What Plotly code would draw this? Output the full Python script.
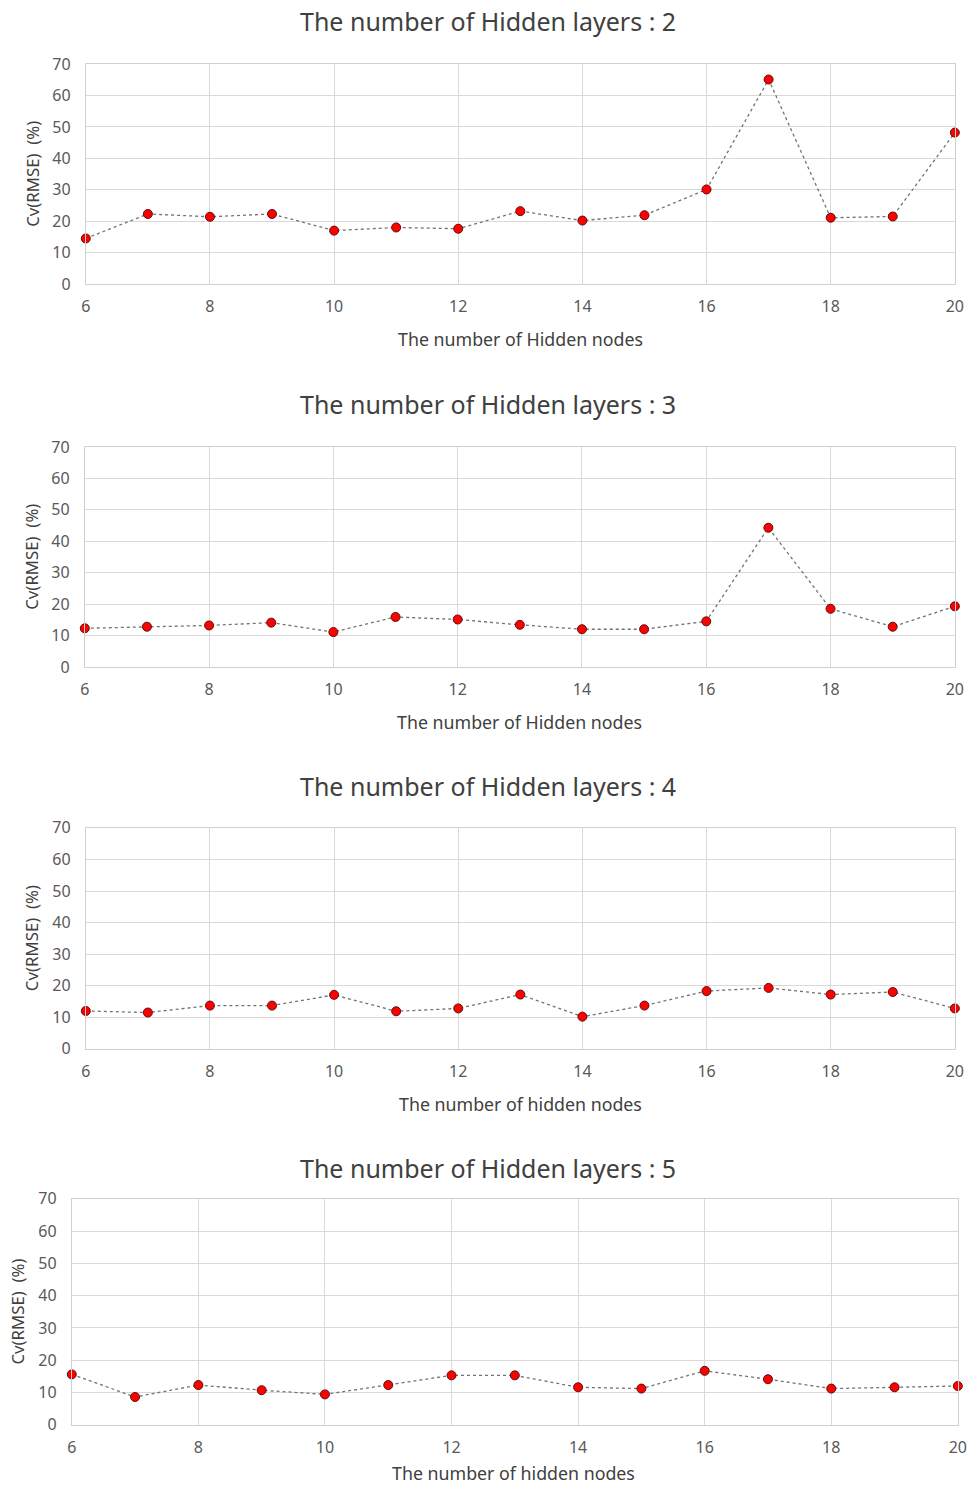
import plotly.graph_objects as go

nodes = list(range(6, 21))
layers = [2, 3, 4, 5]
cv_l2 = [14.5, 22.3, 21.4, 22.3, 17.0, 18.0, 17.6, 23.2, 20.2, 21.9, 30.1, 65.1, 21.1, 21.5, 48.2]
cv_l3 = [12.3, 12.8, 13.2, 14.1, 11.1, 15.9, 15.1, 13.4, 12.0, 12.0, 14.5, 44.3, 18.5, 12.8, 19.3]
cv_l4 = [12.0, 11.5, 13.7, 13.7, 17.1, 11.9, 12.8, 17.2, 10.2, 13.7, 18.3, 19.3, 17.2, 18.0, 12.8]
cv_l5 = [15.6, 8.6, 12.3, 10.7, 9.4, 12.3, 15.3, 15.3, 11.6, 11.2, 16.7, 14.1, 11.2, 11.6, 12.0]
series = [cv_l2, cv_l3, cv_l4, cv_l5]
x_titles = ["The number of Hidden nodes", "The number of Hidden nodes",
            "The number of hidden nodes", "The number of hidden nodes"]
y_title = "Cv(RMSE)  (%)"

W, H = 968, 1491
# target pixel layout of each panel: (left, right, top, bottom)
boxes = [(86, 955, 63, 283), (85, 955, 446, 666), (86, 955, 827, 1048), (72, 958, 1198, 1424)]
title_y = [20, 403, 785, 1167]
title_x = 488
xtitle_y = [338, 721, 1103, 1479]
xtitle_x = [521, 520, 521, 514]
ytitle_x = [32, 32, 32, 18]

S = 0.9855


def fx(t):
    return min(max((t - 5.2) / S, 0), W)


def fy(t):
    return min(max((t - 9.9) / S, 0), H - 7)


def px(t):
    return fx(t) / W


def py(t):
    return 1 - fy(t) / H


FONT = "Noto Sans"
fig = go.Figure()
annotations = []
for i, (vals, (l, r, t, b)) in enumerate(zip(series, boxes)):
    n = i + 1
    xa = "x" if n == 1 else f"x{n}"
    ya = "y" if n == 1 else f"y{n}"
    fig.add_trace(go.Scatter(
        x=nodes, y=vals, mode="lines+markers", xaxis=xa, yaxis=ya,
        line=dict(color="#737373", width=1.3, dash="dot"),
        marker=dict(color="#ff0000", size=9, line=dict(color="#5a1010", width=1)),
        cliponaxis=False, showlegend=False, hoverinfo="skip"))
    axis_common = dict(showgrid=True, gridcolor="#d9d9d9", gridwidth=1,
                       showline=True, linecolor="#d0d0d0", linewidth=1, mirror=True,
                       zeroline=False, ticks="", ticklabeloverflow="allow",
                       tickfont=dict(family=FONT, size=16, color="#595959"))
    fig.layout[f"xaxis{'' if n == 1 else n}"] = dict(
        domain=[px(l), px(r)], anchor=ya, range=[6, 20], tickmode="array",
        tickvals=[6, 8, 10, 12, 14, 16, 18, 20], ticklabelstandoff=8, **axis_common)
    fig.layout[f"yaxis{'' if n == 1 else n}"] = dict(
        domain=[py(b), py(t)], anchor=xa, range=[0, 70], tickmode="array",
        tickvals=[0, 10, 20, 30, 40, 50, 60, 70], ticklabelstandoff=11, **axis_common)
    annotations.append(dict(text=f"The number of Hidden layers : {layers[i]}",
                            x=px(title_x), y=py(title_y[i]), xref="paper", yref="paper",
                            xanchor="center", yanchor="middle", showarrow=False,
                            font=dict(family=FONT, size=25, color="#404040")))
    annotations.append(dict(text=x_titles[i], x=px(xtitle_x[i]), y=py(xtitle_y[i]),
                            xref="paper", yref="paper", xanchor="center", yanchor="middle",
                            showarrow=False, font=dict(family=FONT, size=17.8, color="#404040")))
    annotations.append(dict(text=y_title, x=px(ytitle_x[i]), y=py((t + b) / 2),
                            xref="paper", yref="paper", xanchor="center", yanchor="middle",
                            textangle=-90, showarrow=False,
                            font=dict(family=FONT, size=16.8, color="#404040")))

fig.update_layout(width=W, height=H, margin=dict(l=0, r=0, t=0, b=0),
                  paper_bgcolor="white", plot_bgcolor="white", annotations=annotations,
                  hovermode=False)
fig.write_html("out.html", config={"displayModeBar": False},
               post_script="document.body.style.margin='0';")
